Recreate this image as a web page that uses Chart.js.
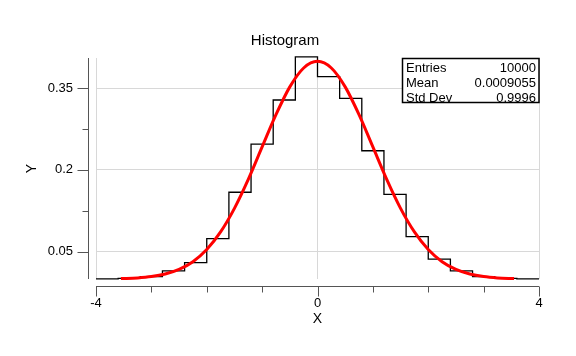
<!DOCTYPE html>
<html><head><meta charset="utf-8">
<script src="https://cdn.jsdelivr.net/npm/chart.js@4.4.1/dist/chart.umd.min.js"></script>
<style>html,body{margin:0;padding:0;background:#fff;}#wrap{width:576px;height:356px;}</style>
</head><body><div id="wrap"><canvas id="c" width="576" height="356"></canvas></div>
<script>
// ---- data ----
const binEdges = [-4,-3.6,-3.2,-2.8,-2.4,-2.0,-1.6,-1.2,-0.8,-0.4,0,0.4,0.8,1.2,1.6,2.0,2.4,2.8,3.2,3.6,4];
const binValues = [0.0004,0.0012,0.0045,0.015,0.030,0.074,0.159,0.247,0.328,0.407,
                   0.371,0.331,0.235,0.155,0.0775,0.0365,0.015,0.0045,0.0012,0.0004];
const fitX = [-3.55,-3.25,-3,-2.75,-2.5,-2.25,-2,-1.75,-1.5,-1.25,-1,-0.75,-0.5,-0.25,0,
              0.25,0.5,0.75,1,1.25,1.5,1.75,2,2.25,2.5,2.75,3,3.25,3.55];
const fitY = [0.0007,0.0020,0.0044,0.0091,0.0175,0.0317,0.0540,0.0863,0.1295,0.1826,0.2420,0.3011,0.3521,0.3867,0.3989,
              0.3867,0.3521,0.3011,0.2420,0.1826,0.1295,0.0863,0.0540,0.0317,0.0175,0.0091,0.0044,0.0020,0.0007];
const xTickValues = [-4,-3,-2,-1,0,1,2,3,4];
const xTickLabels = ['-4','','','','0','','','','4'];
const yTickValues = [0.05,0.125,0.2,0.275,0.35];
const yTickLabels = ['0.05','','0.2','','0.35'];
const statsLabels = ['Entries','Mean','Std Dev'];
const statsValues = ['10000','0.0009055','0.9996'];
const chartTitle = 'Histogram';
const xTitle = 'X';
const yTitle = 'Y';

// ---- build datasets ----
const histPoints = binValues.map((v,i)=>({x: binEdges[i], y: v}));
histPoints.push({x: binEdges[binEdges.length-1], y: binValues[binValues.length-1]});
const fitPoints = fitX.map((x,i)=>({x: x, y: fitY[i]}));

const FONT = '"Liberation Sans", Arial, sans-serif';
Chart.defaults.font.family = FONT;
Chart.defaults.color = '#000';

const axisPlugin = {
  id: 'axisPlugin',
  afterDraw(chart){
    const ctx = chart.ctx, xs = chart.scales.x, ys = chart.scales.y, a = chart.chartArea;
    ctx.save();
    ctx.strokeStyle = '#555';
    ctx.lineWidth = 1;
    ctx.beginPath();
    const ax = a.left - 7.5;
    ctx.moveTo(ax, a.top); ctx.lineTo(ax, a.bottom);
    yTickValues.forEach((v,i)=>{
      const py = Math.round(ys.getPixelForValue(v)) + 0.5;
      const len = yTickLabels[i] ? 11 : 6;
      ctx.moveTo(ax - len, py); ctx.lineTo(ax, py);
    });
    const ay = a.bottom + 7.5;
    ctx.moveTo(a.left, ay); ctx.lineTo(a.right, ay);
    xTickValues.forEach((v,i)=>{
      const px = Math.round(xs.getPixelForValue(v)) + 0.5;
      const len = xTickLabels[i] ? 10 : 6;
      ctx.moveTo(px, ay); ctx.lineTo(px, ay + len);
    });
    ctx.stroke();

    // stats box
    const bw = 137, bh = 44;
    const bx = a.right - bw, by = a.top;
    ctx.fillStyle = '#fff';
    ctx.fillRect(bx, by, bw, bh);
    ctx.strokeStyle = '#000';
    ctx.lineWidth = 1.5;
    ctx.strokeRect(bx + 0.5, by + 0.5, bw - 0.5, bh);
    ctx.fillStyle = '#000';
    ctx.font = '13px ' + FONT;
    ctx.textBaseline = 'alphabetic';
    statsLabels.forEach((s,i)=>{
      const yy = by + 13.5 + i*15;
      ctx.textAlign = 'left';
      ctx.fillText(s, bx + 4, yy);
      ctx.textAlign = 'right';
      ctx.fillText(statsValues[i], a.right - 3, yy);
    });
    ctx.restore();
  }
};

new Chart(document.getElementById('c'), {
  type: 'line',
  data: {
    datasets: [
      {
        data: histPoints,
        stepped: 'before',
        borderColor: '#000',
        borderWidth: 1.3,
        pointRadius: 0,
        fill: false,
        order: 2
      },
      {
        data: fitPoints,
        borderColor: '#ff0000',
        borderWidth: 3,
        pointRadius: 0,
        cubicInterpolationMode: 'monotone',
        fill: false,
        order: 1
      }
    ]
  },
  options: {
    responsive: false,
    animation: false,
    devicePixelRatio: 1,
    clip: false,
    layout: { padding: { left: 0, right: 6, top: 0, bottom: 0 } },
    plugins: {
      legend: { display: false },
      tooltip: { enabled: false },
      title: {
        display: true, text: chartTitle, color: '#000',
        font: { size: 15, weight: 'normal', family: FONT },
        padding: { top: 32, bottom: 8 }
      }
    },
    scales: {
      x: {
        type: 'linear', min: -4, max: 4,
        afterBuildTicks(s){ s.ticks = xTickValues.map(v=>({value: v})); },
        afterFit(s){ s.height = 77; },
        border: { display: false },
        grid: {
          color: (c)=> (c.tick && xTickLabels[xTickValues.indexOf(c.tick.value)]) ? '#d8d8d8' : 'transparent',
          tickColor: 'transparent', tickLength: 15, drawTicks: true
        },
        ticks: {
          autoSkip: false, maxRotation: 0, padding: 2, color: '#000',
          font: { size: 13 },
          callback: (v)=> { const i = xTickValues.indexOf(v); return i >= 0 ? xTickLabels[i] : ''; }
        },
        title: { display: true, text: xTitle, color: '#000', font: { size: 14 }, padding: { top: 0, bottom: 28 } }
      },
      y: {
        type: 'linear', min: 0, max: 0.405,
        afterBuildTicks(s){ s.ticks = yTickValues.map(v=>({value: v})); },
        afterFit(s){ s.width = 96; },
        border: { display: false },
        grid: {
          color: (c)=> (c.tick && yTickLabels[yTickValues.indexOf(c.tick.value)]) ? '#d8d8d8' : 'transparent',
          tickColor: 'transparent', tickLength: 18, drawTicks: true
        },
        ticks: {
          autoSkip: false, padding: 5, color: '#000',
          font: { size: 13 },
          callback: (v)=> { const i = yTickValues.indexOf(v); return i >= 0 ? yTickLabels[i] : ''; }
        },
        title: { display: true, text: yTitle, color: '#000', font: { size: 14 }, padding: { top: 24, bottom: 0 } }
      },
      yRight: {
        type: 'linear', position: 'right', min: 0, max: 1,
        afterFit(s){ s.width = 31; },
        border: { display: false },
        grid: { display: false, drawTicks: false },
        ticks: { display: false },
        title: { display: false }
      }
    }
  },
  plugins: [axisPlugin]
});
</script>
</body></html>
